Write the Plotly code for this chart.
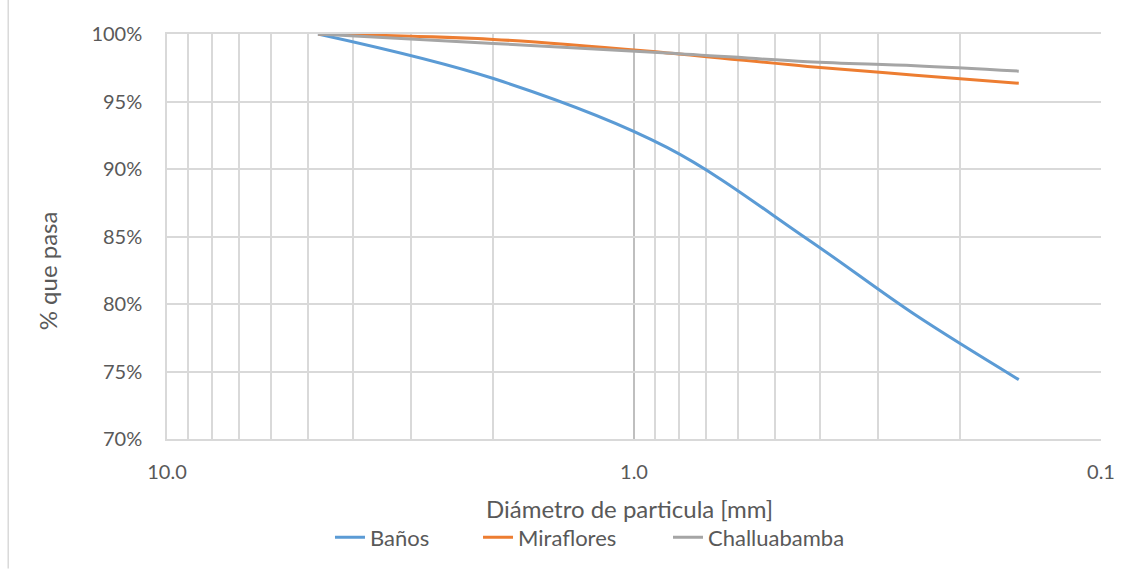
import plotly.graph_objects as go

# Sieve openings (mm) and percentage passing for each sample
diametro_mm = [4.75, 2.0, 0.85, 0.425, 0.25, 0.15]
banos = [100.0, 96.7, 91.6, 84.8, 79.2, 74.4]
miraflores = [100.0, 99.6, 98.6, 97.6, 96.95, 96.35]
challuabamba = [100.0, 99.3, 98.6, 97.95, 97.65, 97.25]

series_names = ["Baños", "Miraflores", "Challuabamba"]
series_colors = ["#5B9BD5", "#ED7D31", "#A5A5A5"]
legend_ids = ["legend", "legend2", "legend3"]
legend_x = [0.1745, 0.333, 0.5364]

x_tickvals = [10, 1, 0.1]
x_ticktext = ["10.0", "1.0", "0.1"]
y_tickvals = [70, 75, 80, 85, 90, 95, 100]
y_ticktext = [f"{v}%" for v in y_tickvals]

FONT = "Lato"
TXT = "#595959"

fig = go.Figure()
for name, vals, col, lg in zip(series_names, [banos, miraflores, challuabamba],
                               series_colors, legend_ids):
    fig.add_trace(go.Scatter(
        x=diametro_mm, y=vals, name=name, mode="lines", legend=lg,
        line=dict(color=col, width=3, shape="spline", smoothing=1.0),
    ))

legend_style = dict(orientation="h", xanchor="left", y=-0.243, yanchor="middle",
                    font=dict(size=22, color=TXT), bgcolor="rgba(0,0,0,0)")
fig.update_layout(
    width=1134, height=571,
    margin=dict(l=167, r=33, t=34, b=130),
    paper_bgcolor="white", plot_bgcolor="white",
    font=dict(family=FONT, color=TXT, size=20),
    showlegend=True,
    legend=dict(x=legend_x[0], **legend_style),
    legend2=dict(x=legend_x[1], **legend_style),
    legend3=dict(x=legend_x[2], **legend_style),
)

fig.update_xaxes(
    type="log", range=[1, -1],
    tickvals=x_tickvals, ticktext=x_ticktext,
    showgrid=True, gridcolor="#BFBFBF", gridwidth=1.5,
    ticks="outside", ticklen=14, tickcolor="rgba(0,0,0,0)",
    tickfont=dict(size=20, color=TXT),
    showline=True, linecolor="#D9D9D9", linewidth=1.5, mirror=True,
    minor=dict(dtick="D1", showgrid=True, gridcolor="#D9D9D9", gridwidth=1.5, ticks=""),
    zeroline=False,
)
fig.update_yaxes(
    range=[70, 100], tickvals=y_tickvals, ticktext=y_ticktext,
    showgrid=True, gridcolor="#D9D9D9", gridwidth=1.5,
    ticks="outside", ticklen=19, tickcolor="rgba(0,0,0,0)",
    tickfont=dict(size=20, color=TXT),
    showline=True, linecolor="#D9D9D9", linewidth=1.5,
    zeroline=False,
)

fig.add_annotation(text="Diámetro de particula [mm]", xref="paper", yref="paper",
                   x=0.495, y=-0.172, xanchor="center", yanchor="middle",
                   showarrow=False, font=dict(size=24, color=TXT))
fig.add_annotation(text="% que pasa", xref="paper", yref="paper",
                   x=-0.127, y=0.415, xanchor="center", yanchor="middle", textangle=-90,
                   showarrow=False, font=dict(size=24, color=TXT))

# Thin frame line along the left edge of the chart area
fig.add_shape(type="line", xref="paper", yref="paper",
              x0=-0.170, x1=-0.170, y0=-0.32, y1=1.1,
              line=dict(color="#D9D9D9", width=1.5))

fig.write_html("out.html")
